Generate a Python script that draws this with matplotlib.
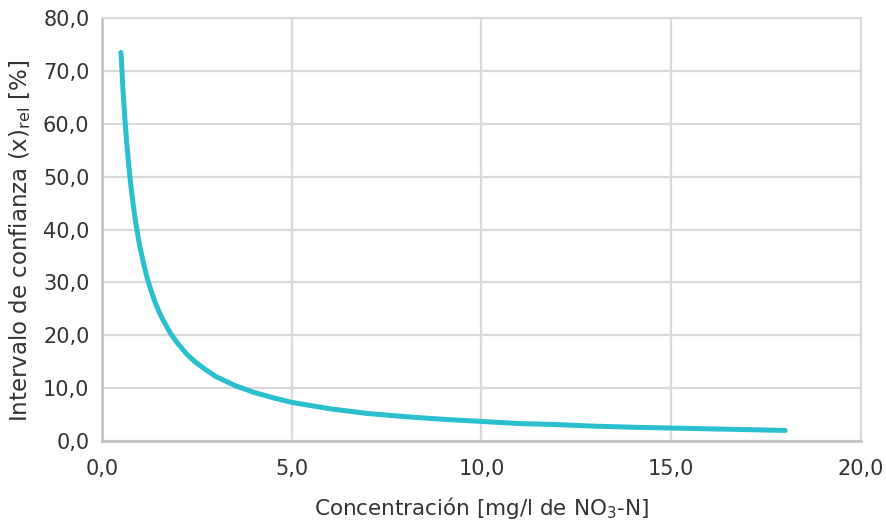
import matplotlib
matplotlib.use("Agg")
import matplotlib.pyplot as plt

# Data
concentracion = [0.5, 0.55, 0.6, 0.65, 0.7, 0.75, 0.8, 0.85, 0.9, 0.95, 1.0, 1.1, 1.2, 1.3, 1.4,
                 1.5, 1.6, 1.8, 2.0, 2.25, 2.5, 2.75, 3.0, 3.5, 4.0, 4.5, 5.0, 5.5, 6.0, 7.0,
                 8.0, 9.0, 10.0, 11.0, 12.0, 13.0, 14.0, 15.0, 16.0, 17.0, 18.0]
intervalo = [73.5, 66.8, 61.2, 56.5, 52.5, 49.0, 46.0, 43.2, 40.8, 38.7, 36.7, 33.4, 30.6, 28.3, 26.2,
             24.5, 23.0, 20.4, 18.4, 16.3, 14.7, 13.4, 12.2, 10.5, 9.2, 8.2, 7.3, 6.7, 6.1, 5.2,
             4.6, 4.1, 3.7, 3.3, 3.1, 2.8, 2.6, 2.45, 2.3, 2.15, 2.0]

x_ticks = [0, 5, 10, 15, 20]
x_tick_labels = ["0,0", "5,0", "10,0", "15,0", "20,0"]
y_ticks = [0, 10, 20, 30, 40, 50, 60, 70, 80]
y_tick_labels = ["0,0", "10,0", "20,0", "30,0", "40,0", "50,0", "60,0", "70,0", "80,0"]

plt.rcParams['font.family'] = ['DejaVu Sans']
text_color = '#333333'

fig = plt.figure(figsize=(8.87, 5.22), dpi=100)
ax = fig.add_axes([102/887, 1 - 441/522, (861 - 102)/887, (441 - 18)/522])

ax.plot(concentracion, intervalo, color='#29bfce', linewidth=3.6,
        solid_capstyle='round', solid_joinstyle='round', zorder=3)

ax.set_xlim(0, 20)
ax.set_ylim(0, 80)
ax.set_xticks(x_ticks)
ax.set_xticklabels(x_tick_labels)
ax.set_yticks(y_ticks)
ax.set_yticklabels(y_tick_labels)

ax.grid(True, color='#d9d9d9', linewidth=1.6, zorder=0)
ax.set_axisbelow(True)
for side in ['top', 'right']:
    ax.spines[side].set_color('#d9d9d9')
    ax.spines[side].set_linewidth(1.6)
for side in ['left', 'bottom']:
    ax.spines[side].set_color('#bfbfbf')
    ax.spines[side].set_linewidth(1.8)

ax.tick_params(axis='both', length=0, labelsize=15, colors=text_color)
ax.tick_params(axis='y', pad=9)
ax.tick_params(axis='x', pad=13)

ax.set_xlabel(r"Concentración [mg/l de NO$_{\mathregular{3}}$-N]", fontsize=15.5,
              color=text_color)
ax.xaxis.set_label_coords(0.5, (441 - 495) / 423)
ax.set_ylabel(r"Intervalo de confianza (x)$_{\mathregular{rel}}$ [%]", fontsize=16.5,
              color=text_color)
ax.yaxis.set_label_coords(-69/759, (441 - 241)/423)

fig.savefig("out.png", dpi=100)
